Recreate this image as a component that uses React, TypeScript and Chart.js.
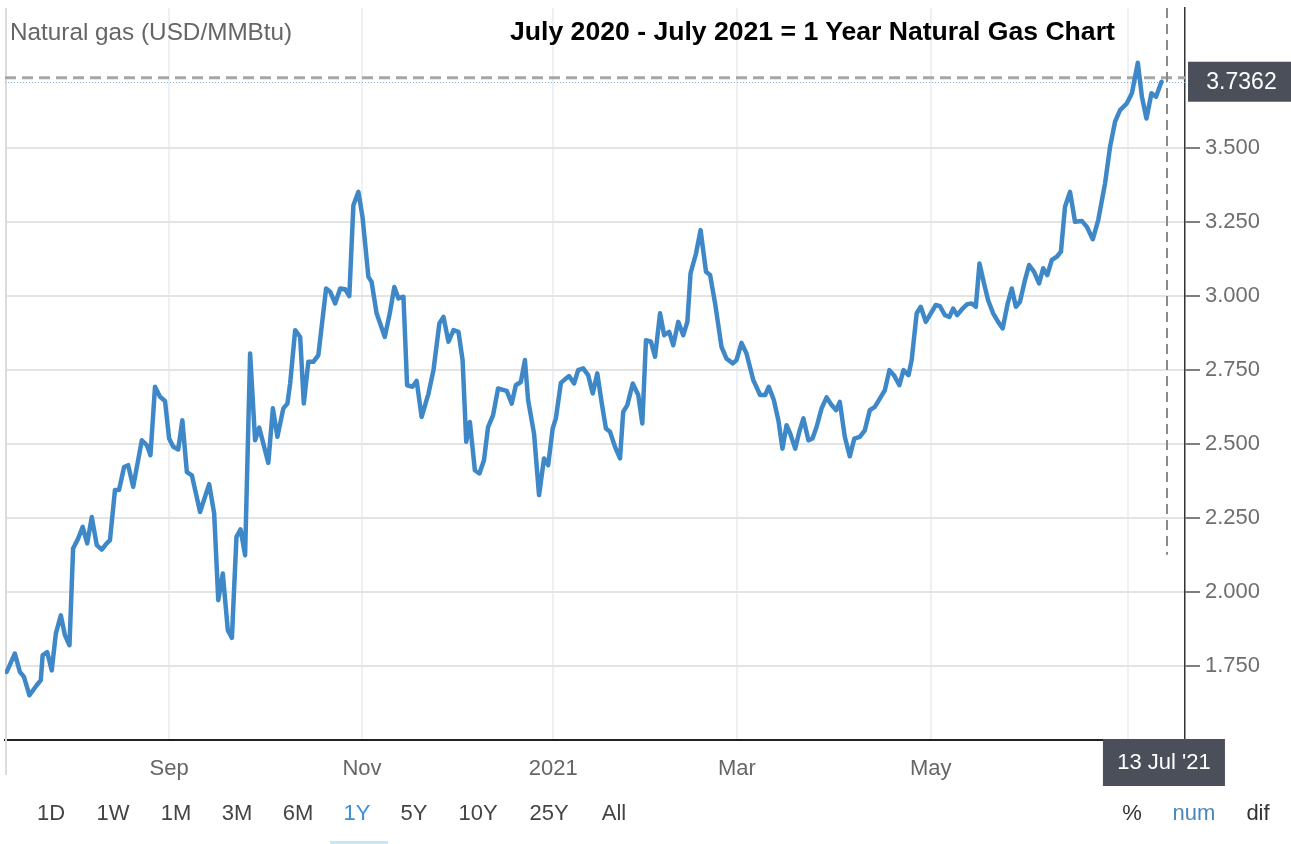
import React, { useEffect, useRef } from "react";
import { Chart, registerables } from "chart.js";

Chart.register(...registerables);

// ---- data (x = trading-day index from 13 Jul 2020, y = USD/MMBtu) ----
const tradingDay = [0,1.8,2.9,3.8,5.0,6.6,7.5,7.9,8.9,9.9,10.8,11.9,12.8,13.8,14.6,15.7,16.7,17.7,18.7,19.8,20.9,21.8,22.7,23.8,24.7,25.8,26.7,27.8,29.7,30.8,31.6,32.6,33.7,34.8,35.7,36.6,37.7,38.6,39.6,40.7,42.5,44.5,45.6,46.5,47.5,48.6,49.5,50.5,51.4,52.4,53.5,54.6,55.5,57.5,58.5,59.5,60.8,61.7,62.3,63.4,64.5,65.3,66.3,67.4,68.5,70.2,71.1,72.2,73.3,74.4,75.3,76.2,77.3,78.2,79.5,80.2,81.3,83.1,84.2,85.2,86.1,87.2,88.0,89.2,90.1,91.2,92.7,93.8,95.1,96.0,97.1,98.2,99.3,100.2,101.0,101.8,102.9,103.9,104.9,105.8,106.9,108.0,109.9,111.0,111.9,113.0,113.9,114.6,115.9,117.0,118.1,119.0,120.0,120.7,121.8,122.7,123.6,124.7,125.6,126.7,127.8,128.8,129.8,130.8,131.7,132.6,133.7,134.8,135.5,136.4,137.6,138.8,139.7,140.5,141.6,142.5,143.6,144.5,145.6,146.5,147.6,148.7,149.6,150.3,151.5,152.5,153.7,154.6,155.7,157.1,158.2,159.6,160.4,161.5,162.6,164.1,165.6,166.7,167.5,168.6,169.6,170.5,171.4,172.2,173.3,174.2,175.1,176.2,177.1,178.0,179.1,180.2,181.3,182.3,183.1,184.2,185.3,186.3,187.5,188.6,189.7,190.8,191.9,193.0,194.0,195.0,196.2,197.1,198.2,198.9,200.0,200.9,202.0,203.1,204.2,205.1,206.2,207.2,208.0,208.9,210.1,211.1,212.1,213.0,213.8,214.8,215.7,216.8,217.9,218.9,220.0,220.9,221.8,222.7,223.8,224.7,225.8,226.9,227.8,228.7,229.7,230.8,231.7,232.6,233.7,234.8,236.3,237.4,238.7,239.9,241.4,242.5,243.6,244.7,246.2,247.3,248.6,249.5,250.5,251.6,252.6,253.8];

const price = [1.730,1.792,1.730,1.713,1.651,1.685,1.702,1.786,1.797,1.735,1.859,1.921,1.854,1.820,2.147,2.180,2.220,2.164,2.253,2.158,2.143,2.161,2.175,2.344,2.344,2.422,2.428,2.355,2.512,2.496,2.462,2.693,2.659,2.645,2.518,2.490,2.481,2.580,2.405,2.394,2.270,2.364,2.265,1.972,2.062,1.871,1.845,2.186,2.211,2.124,2.805,2.512,2.555,2.436,2.620,2.524,2.620,2.636,2.704,2.884,2.861,2.636,2.777,2.777,2.800,3.025,3.014,2.974,3.025,3.022,2.999,3.306,3.351,3.267,3.064,3.047,2.941,2.861,2.941,3.030,2.991,2.997,2.698,2.693,2.713,2.591,2.670,2.749,2.907,2.929,2.845,2.884,2.878,2.783,2.507,2.574,2.411,2.400,2.445,2.557,2.597,2.687,2.679,2.636,2.698,2.709,2.783,2.648,2.535,2.327,2.451,2.428,2.552,2.586,2.706,2.718,2.729,2.704,2.749,2.755,2.732,2.670,2.738,2.636,2.552,2.541,2.490,2.451,2.608,2.631,2.704,2.665,2.569,2.850,2.845,2.794,2.941,2.867,2.878,2.833,2.912,2.867,2.912,3.076,3.143,3.222,3.081,3.070,2.974,2.828,2.788,2.772,2.783,2.841,2.805,2.715,2.665,2.665,2.693,2.648,2.580,2.484,2.563,2.535,2.484,2.541,2.586,2.512,2.518,2.557,2.620,2.657,2.631,2.614,2.642,2.524,2.458,2.518,2.524,2.546,2.614,2.625,2.653,2.681,2.749,2.732,2.698,2.749,2.732,2.783,2.941,2.963,2.912,2.941,2.969,2.965,2.935,2.929,2.957,2.935,2.957,2.972,2.974,2.963,3.109,3.042,2.985,2.941,2.912,2.890,2.974,3.025,2.963,2.980,3.053,3.104,3.081,3.042,3.093,3.070,3.121,3.132,3.149,3.301,3.351,3.250,3.253,3.233,3.191,3.256,3.380,3.503,3.588,3.627,3.650,3.684,3.787,3.672,3.599,3.684,3.672,3.723];

const monthTickDays = [35.7, 78.1, 120.1, 160.5, 203.1, 246.4];
const monthTickLabels = ["Sep", "Nov", "2021", "Mar", "May", ""];
const priceTicks = [1.75, 2.0, 2.25, 2.5, 2.75, 3.0, 3.25, 3.5];
const lastQuote = 3.7362;
const lastQuoteLabel = "3.7362";
const crosshairDay = 255.0;
const crosshairDateLabel = "13 Jul '21";
const rangeButtons = ["1D", "1W", "1M", "3M", "6M", "1Y", "5Y", "10Y", "25Y", "All"];
const activeRange = "1Y";
const modeButtons = ["%", "num", "dif"];
const activeMode = "num";
const seriesTitle = "Natural gas (USD/MMBtu)";
const chartTitle = "July 2020 - July 2021 = 1 Year Natural Gas Chart";

// ---- layout / style ----
const W = 1291;
const H = 844;
const FONT = '"Liberation Sans", Arial, Helvetica, sans-serif';
const X_MIN = -0.37;
const X_MAX = 258.97;
const Y_MIN = 1.5;
const Y_MAX = 3.972;
const LINE_COLOR = "#3f88c8";
const BOX_COLOR = "#4a4f5a";
const rangeCenters = [51, 113, 176, 237, 298, 357, 414, 478, 549, 614];
const modeCenters = [1132, 1194, 1258];

const overlayPlugin = {
  id: "overlay",
  beforeDatasetsDraw(chart: any) {
    const { ctx, chartArea: a, scales } = chart;
    const x = scales.x;
    const y = scales.y;
    ctx.save();
    // left frame line
    ctx.strokeStyle = "#dcdcdc";
    ctx.lineWidth = 2;
    ctx.beginPath();
    ctx.moveTo(a.left + 1, a.top);
    ctx.lineTo(a.left + 1, a.bottom + 35);
    ctx.stroke();
    // last price dotted line
    const yLast = y.getPixelForValue(price[price.length - 1]);
    ctx.setLineDash([1, 2]);
    ctx.strokeStyle = "#7fb0dc";
    ctx.lineWidth = 1;
    ctx.beginPath();
    ctx.moveTo(a.left, Math.round(yLast) + 0.5);
    ctx.lineTo(a.right, Math.round(yLast) + 0.5);
    ctx.stroke();
    // horizontal crosshair
    const yq = y.getPixelForValue(lastQuote);
    ctx.setLineDash([11, 6]);
    ctx.strokeStyle = "#a6a6a6";
    ctx.lineWidth = 3;
    ctx.beginPath();
    ctx.moveTo(a.left, yq);
    ctx.lineTo(a.right, yq);
    ctx.stroke();
    // vertical crosshair
    const xc = Math.round(x.getPixelForValue(crosshairDay));
    ctx.setLineDash([10, 6]);
    ctx.strokeStyle = "#8a8a8a";
    ctx.lineWidth = 2;
    ctx.beginPath();
    ctx.moveTo(xc, a.top);
    ctx.lineTo(xc, a.top + 0.747 * (a.bottom - a.top));
    ctx.stroke();
    ctx.restore();
  },
  afterDraw(chart: any) {
    const { ctx, chartArea: a, scales } = chart;
    const x = scales.x;
    const y = scales.y;
    ctx.save();
    // value box
    const yLast = y.getPixelForValue(price[price.length - 1]);
    ctx.fillStyle = BOX_COLOR;
    ctx.fillRect(a.right + 3, yLast - 20, W - a.right - 3, 40);
    ctx.fillStyle = "#ffffff";
    ctx.font = `23px ${FONT}`;
    ctx.textAlign = "center";
    ctx.textBaseline = "middle";
    ctx.fillText(lastQuoteLabel, (a.right + 3 + W) / 2 + 2, yLast + 1);
    // date box
    const xc = x.getPixelForValue(crosshairDay) - 3;
    ctx.fillStyle = BOX_COLOR;
    ctx.fillRect(xc - 61, a.bottom - 1, 122, 47);
    ctx.fillStyle = "#ffffff";
    ctx.font = `22px ${FONT}`;
    ctx.fillText(crosshairDateLabel, xc, a.bottom + 23);
    ctx.restore();
  },
};

export default function App() {
  const ref = useRef<HTMLCanvasElement>(null);

  useEffect(() => {
    const canvas = ref.current;
    if (!canvas) return;
    const chart = new Chart(canvas, {
      type: "line",
      data: {
        datasets: [
          {
            data: tradingDay.map((t, i) => ({ x: t, y: price[i] })),
            borderColor: LINE_COLOR,
            borderWidth: 4.5,
            pointRadius: 0,
            tension: 0,
            fill: false,
            borderJoinStyle: "round",
            borderCapStyle: "round",
          },
        ],
      },
      options: {
        responsive: false,
        animation: false,
        devicePixelRatio: 1,
        events: [],
        layout: { padding: { left: 5, top: 8, right: 0, bottom: 0 } },
        plugins: { legend: { display: false }, tooltip: { enabled: false } },
        scales: {
          x: {
            type: "linear",
            min: X_MIN,
            max: X_MAX,
            afterBuildTicks: (s: any) => {
              s.ticks = monthTickDays.map((v) => ({ value: v }));
            },
            afterFit: (s: any) => {
              s.height = 104;
              s.paddingLeft = 0;
              s.paddingRight = 0;
            },
            ticks: {
              autoSkip: false,
              maxRotation: 0,
              padding: 16,
              color: "#666666",
              font: { family: FONT, size: 22 },
              callback: (_v: any, i: number) => monthTickLabels[i],
            },
            grid: { color: "#edf1f5", lineWidth: 2, drawTicks: false },
            border: { color: "#222222", width: 2 },
          },
          y: {
            position: "right",
            min: Y_MIN,
            max: Y_MAX,
            afterBuildTicks: (s: any) => {
              s.ticks = priceTicks.map((v) => ({ value: v }));
            },
            afterFit: (s: any) => {
              s.width = W - 1185;
              s.paddingTop = 0;
              s.paddingBottom = 0;
            },
            ticks: {
              autoSkip: false,
              padding: 5,
              color: "#6e6e6e",
              font: { family: FONT, size: 22 },
              callback: (v: any) => Number(v).toFixed(3),
            },
            grid: {
              color: "#e4e4e4",
              lineWidth: 2,
              tickLength: 15,
              tickColor: "#555555",
              tickWidth: 1.5,
            },
            border: { color: "#333333", width: 1.5 },
          },
        },
      } as any,
      plugins: [overlayPlugin],
    });
    return () => chart.destroy();
  }, []);

  return (
    <div
      style={{
        position: "fixed",
        left: 0,
        top: 0,
        width: W,
        height: H,
        background: "#ffffff",
        overflow: "hidden",
        fontFamily: FONT,
      }}
    >
      <canvas
        ref={ref}
        width={W}
        height={H}
        style={{ position: "absolute", left: 0, top: 0, width: W, height: H, display: "block" }}
      />
      <div
        style={{
          position: "absolute",
          left: 10,
          top: 20,
          fontSize: 24.3,
          lineHeight: 1,
          color: "#666666",
          whiteSpace: "nowrap",
        }}
      >
        {seriesTitle}
      </div>
      <div
        style={{
          position: "absolute",
          left: 510,
          top: 18,
          fontSize: 26.6,
          lineHeight: 1,
          fontWeight: "bold",
          color: "#000000",
          whiteSpace: "nowrap",
        }}
      >
        {chartTitle}
      </div>
      {rangeButtons.map((b, i) => (
        <div
          key={b}
          style={{
            position: "absolute",
            left: rangeCenters[i],
            top: 802,
            transform: "translateX(-50%)",
            fontSize: 22,
            lineHeight: 1,
            color: b === activeRange ? "#3a8fd6" : "#444444",
            whiteSpace: "nowrap",
          }}
        >
          {b}
        </div>
      ))}
      <div
        style={{
          position: "absolute",
          left: 330,
          top: 841,
          width: 58,
          height: 3,
          background: "#c5e7f7",
        }}
      />
      {modeButtons.map((b, i) => (
        <div
          key={b}
          style={{
            position: "absolute",
            left: modeCenters[i],
            top: 802,
            transform: "translateX(-50%)",
            fontSize: 22,
            lineHeight: 1,
            color: b === activeMode ? "#4a87b8" : "#333333",
            whiteSpace: "nowrap",
          }}
        >
          {b}
        </div>
      ))}
    </div>
  );
}
